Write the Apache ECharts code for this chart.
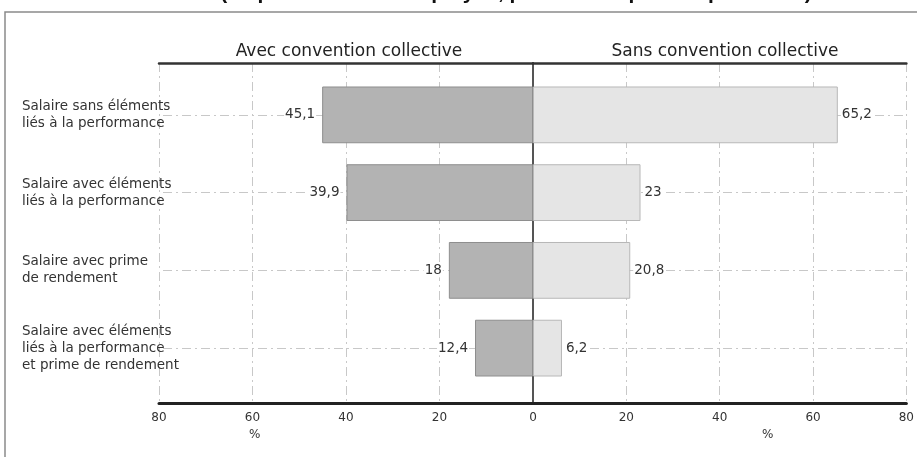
<!DOCTYPE html>
<html><head><meta charset="utf-8">
<script src="https://cdn.jsdelivr.net/npm/echarts@6/dist/echarts.min.js"></script>
<style>html,body{margin:0;padding:0;background:#fff}#c{width:917px;height:457px}</style>
</head><body><div id="c"></div>
<script>
var categories = [
  "Salaire sans éléments\nliés à la performance",
  "Salaire avec éléments\nliés à la performance",
  "Salaire avec prime\nde rendement",
  "Salaire avec éléments\nliés à la performance\net prime de rendement"
];
var avecConvention = [45.1, 39.9, 18, 12.4];
var sansConvention = [65.2, 23, 20.8, 6.2];
var panelTitles = ["Avec convention collective", "Sans convention collective"];
var mainTitle = "(en pour cent des employés, plusieurs réponses possibles)";
var axisUnit = "%";

var chart = echarts.init(document.getElementById('c'));
var fmt = function (p) { return String(p.value).replace('.', ','); };
var dashGrid = { color: '#c8c8c8', width: 1, type: [9, 4, 2, 4] };
var markLines = {
  silent: true, symbol: 'none', label: { show: false },
  lineStyle: { color: '#c8c8c8', width: 1, type: [9, 4, 2, 4] },
  data: categories.map(function (c) { return { yAxis: c }; }),
  z: 0
};
var labelCommon = {
  show: true, fontFamily: 'DejaVu Sans', fontSize: 13.5, color: '#333',
  backgroundColor: '#fff', padding: [0, 1], formatter: fmt
};
chart.setOption({
  animation: false,
  textStyle: { fontFamily: 'DejaVu Sans' },
  title: [
    { text: mainTitle, left: 511, top: -22, textAlign: 'center',
      textStyle: { fontFamily: 'Liberation Sans', fontWeight: 'bold', fontSize: 21, color: '#111' } },
    { text: panelTitles[0], left: 344, top: 38, textAlign: 'center',
      textStyle: { fontFamily: 'DejaVu Sans', fontWeight: 'normal', fontSize: 17, color: '#222' } },
    { text: panelTitles[1], left: 720, top: 38, textAlign: 'center',
      textStyle: { fontFamily: 'DejaVu Sans', fontWeight: 'normal', fontSize: 17, color: '#222' } }
  ],
  graphic: [
    { type: 'rect', shape: { x: 5, y: 12, width: 940, height: 480 }, style: { fill: 'none', stroke: '#8a8a8a', lineWidth: 1.5 }, silent: true },
    { type: 'text', left: 249, top: 429, style: { text: axisUnit, fontFamily: 'DejaVu Sans', fontSize: 12, fill: '#333' } },
    { type: 'text', left: 762, top: 429, style: { text: axisUnit, fontFamily: 'DejaVu Sans', fontSize: 12, fill: '#333' } }
  ],
  grid: [
    { left: 159, width: 374, top: 63, height: 340 },
    { left: 533, width: 374, top: 63, height: 340 },
    { left: 159, width: 374, top: 76, height: 311 },
    { left: 533, width: 374, top: 76, height: 311 }
  ],
  xAxis: [
    { gridIndex: 0, type: 'value', min: 0, max: 80, interval: 20, inverse: true,
      axisLine: { show: true, lineStyle: { color: '#222', width: 3 } },
      axisTick: { show: false },
      axisLabel: { margin: 9, fontSize: 12, color: '#333', fontFamily: 'DejaVu Sans' },
      splitLine: { show: true, lineStyle: dashGrid } },
    { gridIndex: 1, type: 'value', min: 0, max: 80, interval: 20,
      axisLine: { show: true, lineStyle: { color: '#222', width: 3 } },
      axisTick: { show: false },
      axisLabel: { margin: 9, fontSize: 12, color: '#333', fontFamily: 'DejaVu Sans', showMinLabel: false },
      splitLine: { show: true, lineStyle: dashGrid } },
    { gridIndex: 0, type: 'value', min: 0, max: 80, interval: 20, inverse: true, position: 'top',
      axisLine: { show: true, lineStyle: { color: '#333', width: 2.5 } },
      axisTick: { show: false }, axisLabel: { show: false }, splitLine: { show: false } },
    { gridIndex: 1, type: 'value', min: 0, max: 80, interval: 20, position: 'top',
      axisLine: { show: true, lineStyle: { color: '#333', width: 2.5 } },
      axisTick: { show: false }, axisLabel: { show: false }, splitLine: { show: false } },
    { gridIndex: 2, type: 'value', min: 0, max: 80, interval: 20, inverse: true, show: false },
    { gridIndex: 3, type: 'value', min: 0, max: 80, interval: 20, show: false }
  ],
  yAxis: [
    { gridIndex: 0, type: 'value', min: 0, max: 1, show: false },
    { gridIndex: 1, type: 'value', min: 0, max: 1,
      axisLine: { show: true, onZero: false, lineStyle: { color: '#555', width: 2 } },
      axisTick: { show: false }, axisLabel: { show: false }, splitLine: { show: false } },
    { gridIndex: 2, type: 'category', data: categories, inverse: true, position: 'left',
      axisLine: { show: false }, axisTick: { show: false }, splitLine: { show: false },
      axisLabel: { align: 'left', margin: 137, fontFamily: 'DejaVu Sans', fontSize: 13.5, lineHeight: 17, color: '#333' } },
    { gridIndex: 3, type: 'category', data: categories, inverse: true,
      axisLine: { show: false }, axisTick: { show: false }, axisLabel: { show: false }, splitLine: { show: false } }
  ],
  series: [
    { type: 'bar', xAxisIndex: 4, yAxisIndex: 2, data: avecConvention, barWidth: '73%',
      itemStyle: { color: '#b3b3b3', borderColor: '#8e8e8e', borderWidth: 1 },
      label: Object.assign({ position: 'left', distance: 6 }, labelCommon),
      markLine: markLines, z: 3 },
    { type: 'bar', xAxisIndex: 5, yAxisIndex: 3, data: sansConvention, barWidth: '73%',
      itemStyle: { color: '#e5e5e5', borderColor: '#b8b8b8', borderWidth: 1 },
      label: Object.assign({ position: 'right', distance: 3 }, labelCommon),
      markLine: markLines, z: 3 }
  ]
});
</script></body></html>
